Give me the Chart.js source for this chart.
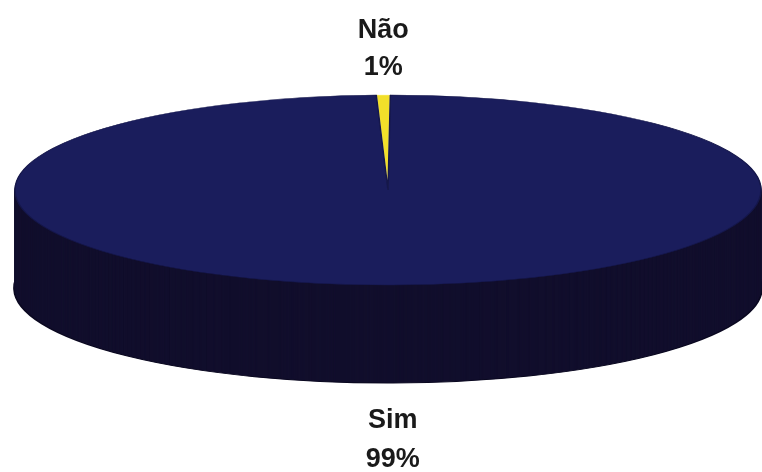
<!DOCTYPE html>
<html>
<head>
<meta charset="utf-8">
<script src="https://cdn.jsdelivr.net/npm/chart.js@4.4.1/dist/chart.umd.min.js"></script>
<style>
  html, body { margin: 0; padding: 0; background: #ffffff; }
  canvas { display: block; }
</style>
</head>
<body>
<canvas id="c" width="762" height="472"></canvas>
<script>
// ---- data ----
const categories = ['Não', 'Sim'];
const values = [0.6, 99.4];

// ---- styles ----
const topColors = ['#f2df2a', '#1a1d5c'];
const sideColors = ['#8a7a10', '#120f2d'];
const VIEW = { cx: 388, cy: 190, rx: 373, ry: 95, depth: 98 };

function applyView(ctx, arc) {
  const sx = VIEW.rx / arc.outerRadius, sy = VIEW.ry / arc.outerRadius;
  ctx.translate(VIEW.cx, VIEW.cy);
  ctx.scale(sx, sy);
  ctx.translate(-arc.x, -arc.y);
}

const pie3d = {
  id: 'pie3d',
  beforeDatasetsDraw(chart) {
    const ctx = chart.ctx;
    const meta = chart.getDatasetMeta(0);
    const arcs = meta.data;
    if (!arcs.length) return;
    // side walls: stacked copies of the library's arcs
    for (let d = VIEW.depth; d >= 1; d--) {
      ctx.save();
      ctx.translate(0, d);
      applyView(ctx, arcs[0]);
      arcs.forEach((arc, i) => {
        const fake = Object.create(arc);
        fake.options = Object.assign({}, arc.options, {
          backgroundColor: sideColors[i],
          borderColor: d === VIEW.depth ? '#0a0820' : sideColors[i],
          borderWidth: d === VIEW.depth ? 2 : 0.6
        });
        fake.draw(ctx);
      });
      ctx.restore();
    }
    ctx.save();
    applyView(ctx, arcs[0]);
  },
  afterDatasetsDraw(chart) {
    chart.ctx.restore();
  },
  afterDraw(chart) {
    const ctx = chart.ctx;
    const arcs = chart.getDatasetMeta(0).data;
    const total = values.reduce((a, b) => a + b, 0);
    ctx.save();
    ctx.fillStyle = '#1a1a1a';
    ctx.font = 'bold 27px "Liberation Sans", Arial, sans-serif';
    ctx.textAlign = 'center';
    ctx.textBaseline = 'alphabetic';
    arcs.forEach((arc, i) => {
      const mid = (arc.startAngle + arc.endAngle) / 2;
      const x = VIEW.cx + VIEW.rx * Math.cos(mid);
      const pct = Math.round(values[i] / total * 100) + '%';
      let y1, y2;
      if (Math.sin(mid) < 0) {
        y1 = VIEW.cy - VIEW.ry - 57;
        y2 = VIEW.cy - VIEW.ry - 20;
      } else {
        y1 = VIEW.cy + VIEW.ry + VIEW.depth + 45;
        y2 = VIEW.cy + VIEW.ry + VIEW.depth + 84;
      }
      ctx.fillText(categories[i], x, y1);
      ctx.fillText(pct, x, y2);
    });
    ctx.restore();
  }
};

new Chart(document.getElementById('c'), {
  type: 'pie',
  data: {
    labels: categories,
    datasets: [{
      data: values,
      backgroundColor: topColors,
      borderColor: ['#fff6a0', '#15174a'],
      borderWidth: 0.8,
      clip: false
    }]
  },
  options: {
    responsive: false,
    animation: false,
    rotation: -1.8,
    radius: 200,
    layout: { padding: 0 },
    plugins: { legend: { display: false }, tooltip: { enabled: false } }
  },
  plugins: [pie3d]
});
</script>
</body>
</html>
